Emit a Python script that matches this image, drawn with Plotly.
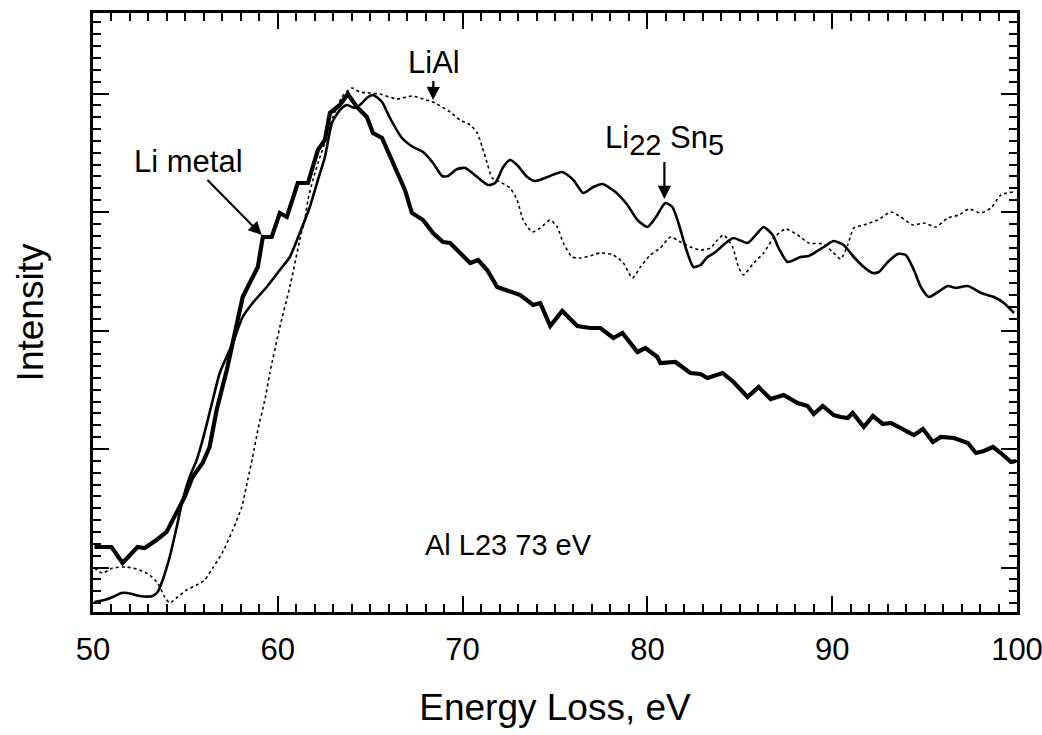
import plotly.graph_objects as go

# Li metal (thick line): energy loss (eV), intensity (a.u.)
li_metal_x = [50.08, 51.00, 51.60, 52.41, 52.79, 53.44, 53.98, 54.53, 54.96, 55.39, 55.93, 56.31,
              56.69, 57.24, 57.78, 58.10, 58.48, 58.92, 59.19, 59.67, 60.11, 60.49, 61.08, 61.63,
              62.17, 62.55, 62.82, 63.36, 63.79, 64.28, 64.82, 65.15, 65.64, 66.23, 66.88, 67.26,
              67.86, 68.40, 68.94, 69.32, 69.86, 70.41, 70.84, 71.33, 71.87, 72.41, 73.12, 73.82,
              74.20, 74.74, 75.39, 76.21, 76.91, 77.45, 78.16, 78.65, 79.46, 79.89, 80.54, 80.70,
              81.52, 82.33, 82.87, 83.25, 84.07, 84.66, 85.42, 86.02, 86.67, 87.37, 88.13, 88.67,
              89.00, 89.49, 90.08, 90.46, 90.84, 91.11, 91.71, 92.20, 92.74, 93.17, 93.88, 94.42,
              94.91, 95.45, 95.88, 96.59, 97.34, 97.78, 98.21, 98.70, 99.13, 99.67, 99.95]
li_metal_y = [65, 65, 49, 65, 64, 72, 80, 99, 115, 135, 149, 165,
              202, 242, 285, 315, 329, 345, 375, 375, 399, 395, 429, 429,
              462, 472, 499, 507, 518, 505, 495, 479, 474, 449, 422, 399,
              392, 379, 370, 369, 359, 349, 352, 342, 325, 322, 317, 307,
              309, 286, 301, 286, 284, 284, 274, 279, 260, 264, 255, 249,
              250, 239, 238, 234, 239, 230, 215, 225, 213, 217, 209, 206,
              198, 206, 197, 195, 194, 199, 185, 196, 188, 189, 182, 177,
              183, 170, 175, 174, 169, 159, 161, 165, 159, 150, 151]

# Li22Sn5 (thin solid line)
li22sn5_x = [50.08, 50.62, 51.06, 51.54, 51.87, 52.52, 53.22, 53.50, 53.77, 54.15, 54.53, 54.85,
             55.23, 55.61, 55.93, 56.21, 56.48, 56.86, 57.56, 58.10, 58.64, 59.40, 60.11, 60.65,
             61.19, 61.73, 62.17, 62.55, 62.93, 63.36, 63.74, 64.17, 64.44, 64.82, 65.15, 65.64,
             66.07, 66.72, 67.32, 67.86, 68.40, 68.89, 69.21, 69.70, 70.14, 70.79, 71.38, 71.76,
             72.20, 72.57, 72.95, 73.50, 73.93, 74.58, 75.39, 75.99, 76.53, 77.07, 77.56, 78.27,
             78.92, 79.46, 80.00, 80.43, 80.97, 81.35, 81.68, 82.06, 82.49, 82.87, 83.25, 83.69,
             84.23, 84.66, 85.42, 85.96, 86.29, 86.78, 87.10, 87.59, 88.29, 88.73, 89.54, 90.08,
             90.62, 91.17, 91.71, 92.20, 92.52, 93.01, 93.55, 93.98, 94.42, 94.80, 95.23, 95.72,
             96.26, 96.69, 97.34, 98.05, 98.75, 99.29, 99.84]
li22sn5_y = [10, 12, 15, 19, 19, 16, 16, 20, 32, 55, 85, 112,
             135, 152, 172, 192, 212, 239, 269, 295, 309, 325, 342, 355,
             379, 405, 432, 455, 489, 502, 507, 504, 507, 514, 517, 510,
             494, 474, 465, 460, 449, 436, 436, 443, 444, 435, 427, 429,
             445, 452, 447, 435, 431, 435, 440, 432, 419, 425, 428, 420,
             407, 392, 385, 394, 409, 405, 389, 365, 345, 347, 355, 360,
             369, 374, 369, 379, 385, 377, 364, 350, 355, 356, 365, 371,
             367, 355, 345, 339, 340, 350, 358, 357, 342, 325, 315, 320,
             326, 324, 326, 319, 315, 309, 299]

# LiAl (dotted line)
lial_x = [50.08, 50.51, 51.06, 51.82, 52.52, 53.06, 53.50, 53.88, 54.15, 54.58, 55.07, 55.61,
          56.04, 56.48, 57.02, 57.56, 58.05, 58.37, 58.64, 58.92, 59.30, 59.57, 60.11, 60.65,
          61.19, 61.46, 61.63, 61.90, 62.28, 62.66, 62.98, 63.47, 64.01, 64.44, 64.99, 65.53,
          66.45, 67.26, 67.86, 68.51, 69.32, 69.86, 70.41, 70.79, 71.06, 71.33, 71.60, 72.03,
          72.57, 72.95, 73.28, 73.77, 74.20, 74.74, 75.12, 75.45, 75.93, 76.37, 77.07, 77.45,
          78.16, 78.70, 79.19, 79.62, 80.16, 80.70, 81.25, 81.79, 82.33, 82.87, 83.41, 83.79,
          84.12, 84.61, 84.93, 85.20, 85.75, 86.29, 86.83, 87.48, 88.13, 88.73, 89.49, 90.03,
          90.46, 90.84, 91.17, 91.71, 92.47, 93.17, 93.71, 94.36, 94.96, 95.61, 96.26, 96.86,
          97.40, 98.05, 98.59, 99.13, 99.78]
lial_y = [44, 39, 44, 45, 42, 37, 29, 15, 9, 15, 22, 27,
          32, 44, 60, 82, 105, 132, 155, 182, 212, 239, 285, 325,
          372, 392, 412, 432, 455, 475, 495, 515, 524, 520, 519, 518,
          513, 516, 513, 509, 500, 492, 487, 479, 465, 449, 434, 430,
          424, 412, 392, 380, 384, 392, 385, 369, 355, 354, 357, 359,
          357, 349, 334, 345, 357, 364, 375, 370, 365, 362, 364, 372,
          377, 365, 345, 337, 349, 359, 374, 383, 377, 369, 368, 360,
          353, 367, 384, 387, 392, 400, 395, 387, 389, 385, 394, 397,
          403, 399, 404, 417, 420]

x_ticks = [50, 60, 70, 80, 90, 100]

FONT = "Liberation Sans, Arial, Helvetica, sans-serif"

fig = go.Figure()
fig.add_trace(go.Scatter(x=lial_x, y=lial_y, mode="lines", name="LiAl",
                         line=dict(color="black", width=1.6, dash="dot", shape="spline", smoothing=0.6)))
fig.add_trace(go.Scatter(x=li22sn5_x, y=li22sn5_y, mode="lines", name="Li22Sn5",
                         line=dict(color="black", width=2.6, shape="spline", smoothing=0.6)))
fig.add_trace(go.Scatter(x=li_metal_x, y=li_metal_y, mode="lines", name="Li metal",
                         line=dict(color="black", width=4.2)))

ann_font = dict(family=FONT, size=31, color="black")
arrow_style = dict(showarrow=True, arrowhead=2, arrowsize=1.2, arrowwidth=2.2, arrowcolor="black",
                   xref="x", yref="y", axref="x", ayref="y", font=ann_font)
annotations = [
    dict(text="LiAl", x=68.40, y=512, ax=68.44, ay=550, standoff=0, **arrow_style),
    dict(text="Li metal", x=59.13, y=377, ax=55.18, ay=451, standoff=0, **arrow_style),
    dict(text='Li<sub><span style="font-size:29px">22</span></sub> Sn<sub><span style="font-size:29px">5</span></sub>',
         x=80.92, y=413, ax=80.92, ay=472, standoff=0, **arrow_style),
    dict(x=72.47, y=67, text="Al L23 73 eV", showarrow=False, font=dict(family=FONT, size=29, color="black"),
         xref="x", yref="y"),
]

fig.update_layout(
    width=1042, height=735,
    margin=dict(l=93, r=25, t=13, b=123),
    paper_bgcolor="white", plot_bgcolor="white",
    showlegend=False,
    annotations=annotations,
    font=dict(family=FONT, color="black"),
)
fig.update_xaxes(
    range=[50, 100], tickvals=x_ticks, ticktext=[str(v) for v in x_ticks],
    automargin=False, ticklabeloverflow="allow",
    showgrid=False, zeroline=False,
    showline=True, linewidth=3, linecolor="black", mirror="allticks",
    ticks="inside", ticklen=16, tickwidth=2, tickcolor="black",
    ticklabelstandoff=8,
    tickfont=dict(family=FONT, size=31, color="black"),
    title=dict(text="Energy Loss, eV", font=dict(family=FONT, size=37, color="black"), standoff=28),
    minor=dict(ticks="inside", dtick=1, tick0=50, ticklen=8, tickwidth=2, tickcolor="black", showgrid=False),
)
fig.update_yaxes(
    range=[0, 599], tick0=44.5, dtick=118.5, showticklabels=False,
    automargin=False,
    showgrid=False, zeroline=False,
    showline=True, linewidth=3, linecolor="black", mirror="allticks",
    ticks="inside", ticklen=16, tickwidth=2, tickcolor="black",
    title=dict(text="Intensity", font=dict(family=FONT, size=37, color="black"), standoff=36),
    minor=dict(ticks="inside", dtick=11.85, tick0=44.5, ticklen=8, tickwidth=2, tickcolor="black", showgrid=False),
)

fig.write_html("out.html")
